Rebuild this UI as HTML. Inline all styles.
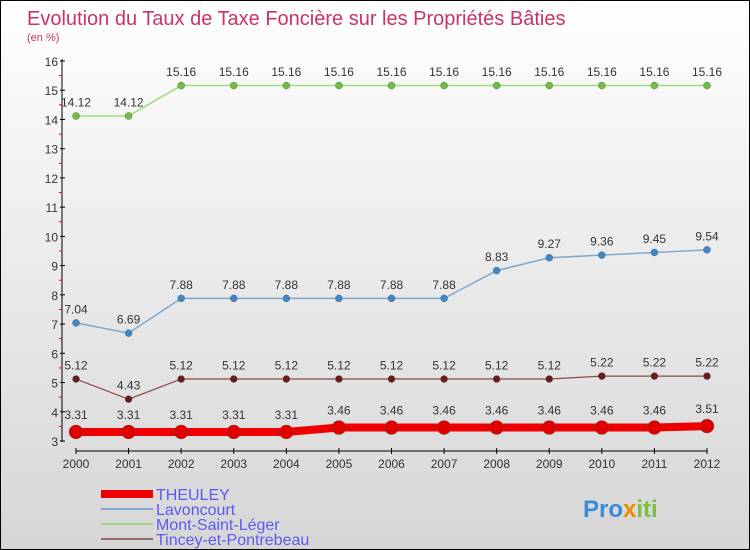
<!DOCTYPE html>
<html><head><meta charset="utf-8"><style>
body{margin:0}
#c{position:relative;width:748px;height:548px;border:1px solid #000;background:linear-gradient(#ffffff,#f2f2f2 30%,#d6d6d6);font-family:"Liberation Sans","DejaVu Sans",sans-serif;overflow:hidden}
</style></head><body>
<div id="c">
<svg id="s" width="748" height="548">
<text x="26" y="24" font-size="20" fill="#c8336a">Evolution du Taux de Taxe Foncière sur les Propriétés Bâties</text>
<text x="26" y="40" font-size="11" fill="#c8336a">(en %)</text>
<g id="g"></g>
<g>
<rect x="100" y="489" width="52" height="8" fill="#e00"/>
<text x="155" y="499" font-size="16" fill="#5a5af0">THEULEY</text>
<rect x="100" y="507" width="52" height="2" fill="#7fa9cc"/>
<text x="155" y="514" font-size="16" fill="#5a5af0">Lavoncourt</text>
<rect x="100" y="522" width="52" height="2" fill="#9fdc7f"/>
<text x="155" y="529" font-size="16" fill="#5a5af0">Mont-Saint-Léger</text>
<rect x="100" y="537" width="52" height="2" fill="#9a6a6a"/>
<text x="155" y="544" font-size="16" fill="#5a5af0">Tincey-et-Pontrebeau</text>
</g>
<text x="582" y="516" font-size="24" font-weight="bold" fill="#3a8ad8">Pro<tspan fill="#f08a00">x</tspan><tspan fill="#7ac043">iti</tspan></text>
</svg>
</div>
<script>
const years=["2000","2001","2002","2003","2004","2005","2006","2007","2008","2009","2010","2011","2012"];
const theuley=[3.31,3.31,3.31,3.31,3.31,3.46,3.46,3.46,3.46,3.46,3.46,3.46,3.51];
const lavoncourt=[7.04,6.69,7.88,7.88,7.88,7.88,7.88,7.88,8.83,9.27,9.36,9.45,9.54];
const montSaintLeger=[14.12,14.12,15.16,15.16,15.16,15.16,15.16,15.16,15.16,15.16,15.16,15.16,15.16];
const tincey=[5.12,4.43,5.12,5.12,5.12,5.12,5.12,5.12,5.12,5.12,5.22,5.22,5.22];
const yTicks=[3,4,5,6,7,8,9,10,11,12,13,14,15,16];
const NS="http://www.w3.org/2000/svg";
const g=document.getElementById('g');
const xs=i=>75+i*(706-75)/12;
const ys=v=>440-(v-3)*(380/13);
function mk(t,a,p){const e=document.createElementNS(NS,t);for(const k in a)e.setAttribute(k,a[k]);(p||g).appendChild(e);return e;}
let e=mk('line',{x1:61,y1:58,x2:61,y2:441,stroke:'#000'});

e=mk('line',{x1:75,y1:450,x2:706,y2:450,stroke:'#000'});

yTicks.forEach(v=>{
 const y=ys(v);
 mk('line',{x1:59,y1:y,x2:64,y2:y,stroke:'#000'});
 if(v<16)mk('line',{x1:58,y1:y-380/26,x2:61,y2:y-380/26,stroke:'#e00'});
 const t=mk('text',{x:57,y:y+5,'font-size':12,'text-anchor':'end',fill:'#333'});
 t.textContent=v;
 
});
years.forEach((yr,i)=>{
 const x=xs(i);
 mk('line',{x1:x,y1:447,x2:x,y2:453,stroke:'#000'});
 const t=mk('text',{x:x,y:467,'font-size':12,'text-anchor':'middle',fill:'#333'});
 t.textContent=yr;
 
});
function series(d,name,col,dot,w,r){
 const grp=mk('g',{});
 
 const p=mk('polyline',{points:d.map((v,i)=>xs(i)+','+ys(v)).join(' '),fill:'none',stroke:col,'stroke-width':w},grp);
 
 d.forEach((v,i)=>{
  const c=mk('circle',{cx:xs(i),cy:ys(v),r:r,fill:dot,stroke:'#555','stroke-width':0.4},grp);
  
  const t=mk('text',{x:xs(i),y:ys(v)-(r+6),'font-size':12,'text-anchor':'middle',fill:'#333'},grp);
  t.textContent=v.toFixed(2);
  
 });
}
series(montSaintLeger,'mont-saint-leger','#9fdc7f','#6cc040',1.5,3.5);
series(lavoncourt,'lavoncourt','#7fa9cc','#3f88c8',1.5,3.5);
series(tincey,'tincey','#8a4a4a','#6a1a1a',1.2,3.5);
series(theuley,'theuley','#ee0000','#e00000',8,7);
</script>
</body></html>
